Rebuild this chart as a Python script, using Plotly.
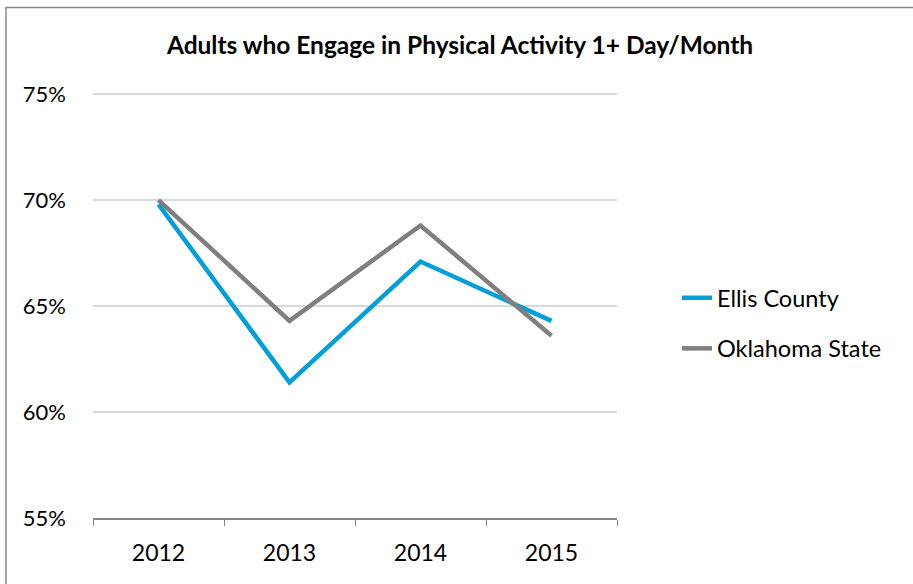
import plotly.graph_objects as go

years = ["2012", "2013", "2014", "2015"]
ellis = [0.698, 0.614, 0.671, 0.643]
oklahoma = [0.700, 0.643, 0.688, 0.636]
series_names = ["Ellis County", "Oklahoma State"]
colors = ["#009FDA", "#7F7F7F"]
title_text = "Adults who Engage in Physical Activity 1+ Day/Month"

W, H = 913, 584
L, R, T, B = 93, 296, 92, 66
pw, ph = W - L - R, H - T - B

fig = go.Figure()
for name, vals, col in zip(series_names, [ellis, oklahoma], colors):
    fig.add_trace(go.Scatter(
        x=years, y=vals, mode="lines", name=name, legendgroup=name,
        line=dict(color=col, width=4.5),
    ))

font_family = "Lato, 'Open Sans', sans-serif"

fig.update_layout(
    width=W, height=H,
    margin=dict(l=L, r=R, t=T, b=B, autoexpand=False),
    paper_bgcolor="white", plot_bgcolor="white",
    font=dict(family=font_family, size=22, color="#000000"),
    title=dict(text="<b>" + title_text + "</b>", x=460 / W, xanchor="center",
               y=1 - 45 / H, yanchor="middle", font=dict(size=24.5, family=font_family)),
    showlegend=True,
    legend=dict(x=(677 - L) / pw, xanchor="left", y=(H - B - 323.5) / ph, yanchor="middle",
                traceorder="grouped", tracegroupgap=17, font=dict(size=23.5),
                bgcolor="rgba(0,0,0,0)"),
    xaxis=dict(type="category", range=[-0.5, 3.5], showgrid=False, showline=True,
               linecolor="#868686", linewidth=1.5, ticks="outside", tickson="boundaries",
               ticklen=6, tickcolor="#868686", tickwidth=1.2, ticklabelstandoff=14,
               tickfont=dict(size=23), automargin=False),
    yaxis=dict(range=[0.55, 0.751], tickvals=[0.55, 0.60, 0.65, 0.70, 0.75],
               tickformat=".0%", showgrid=True,
               gridcolor="#D9D9D9", gridwidth=1.5, zeroline=False, showline=False,
               ticks="", ticklabelstandoff=26, tickfont=dict(size=22), automargin=False),
    shapes=[dict(type="rect", xref="paper", yref="paper",
                 x0=(6 - L) / pw, x1=(W + 20 - L) / pw,
                 y0=(H - B - (H + 20)) / ph, y1=(H - B - 7.5) / ph,
                 line=dict(color="#898989", width=1.5), layer="below")],
)

fig.write_html("out.html", config={"displayModeBar": False},
               post_script="document.body.style.margin='0';")
